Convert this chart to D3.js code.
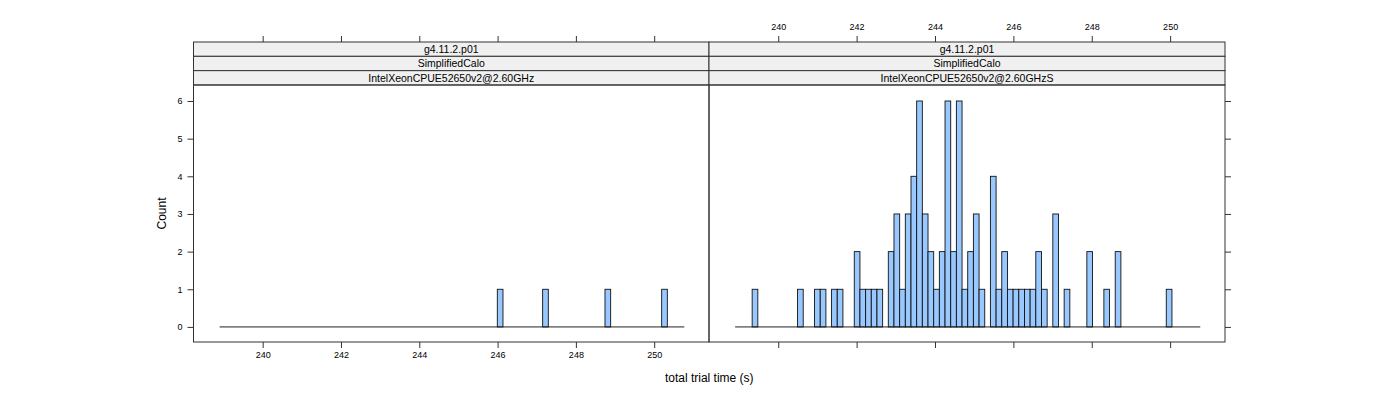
<!DOCTYPE html>
<html><head><meta charset="utf-8">
<script src="https://cdn.jsdelivr.net/npm/d3@7"></script>
<style>body{margin:0;background:#fff}svg{display:block}text{font-family:"Liberation Sans",Arial,sans-serif}</style>
</head><body><div id="chart"></div>
<script>
// ---- data ----
const panels = ["left", "right"];
const stripVersion = ["g4.11.2.p01", "g4.11.2.p01"];
const stripTest = ["SimplifiedCalo", "SimplifiedCalo"];
const stripCpu = ["IntelXeonCPUE52650v2@2.60GHz", "IntelXeonCPUE52650v2@2.60GHzS"];
const binRange = [238.9, 250.77];   // histogram break range
const binCount = 82;
const leftCounts = [
  0,0,0,0,0,0,0,0,0,0, 0,0,0,0,0,0,0,0,0,0,
  0,0,0,0,0,0,0,0,0,0, 0,0,0,0,0,0,0,0,0,0,
  0,0,0,0,0,0,0,0,0,1, 0,0,0,0,0,0,0,1,0,0,
  0,0,0,0,0,0,0,0,1,0, 0,0,0,0,0,0,0,0,1,0,
  0,0];
const rightCounts = [
  0,0,0,1,0,0,0,0,0,0, 0,1,0,0,1,1,0,1,1,0,
  0,2,1,1,1,1,0,2,3,1, 3,4,6,3,2,1,2,6,2,6,
  1,2,3,1,0,4,1,2,1,1, 1,1,1,2,1,0,3,0,1,0,
  0,0,2,0,0,1,0,2,0,0, 0,0,0,0,0,0,1,0,0,0,
  0,0];
const xTicks = [240, 242, 244, 246, 248, 250];
const yTicks = [0, 1, 2, 3, 4, 5, 6];
const xLabel = "total trial time (s)";
const yLabel = "Count";

// ---- layout ----
const W = 1400, H = 400;
const L = 193.5, M = 709, R = 1225;
const stripTop = 42, stripH = 14.33, panelTop = stripTop + 3 * stripH, panelBottom = 342;
const ink = "#333";
const tickFont = 9;

const svg = d3.select("#chart").append("svg").attr("width", W).attr("height", H);

const y = d3.scaleLinear().domain([-0.4, 6.425]).range([panelBottom, panelTop]);
const breaks = d3.range(binCount + 1).map(i => binRange[0] + i * (binRange[1] - binRange[0]) / binCount);
const countsByPanel = [leftCounts, rightCounts];

panels.forEach((p, pi) => {
  const x0 = pi === 0 ? L : M, x1 = pi === 0 ? M : R;
  const x = d3.scaleLinear().domain([238.233, 251.40]).range([x0, x1]);
  const g = svg.append("g");

  // bars
  const bins = countsByPanel[pi].map((c, i) => ({x0: breaks[i], x1: breaks[i + 1], c}));
  g.selectAll("rect.bar").data(bins).join("rect")
    .attr("class", "bar")
    .attr("x", d => x(d.x0)).attr("width", d => x(d.x1) - x(d.x0))
    .attr("y", d => y(d.c)).attr("height", d => y(0) - y(d.c))
    .attr("fill", "#99c8ff").attr("stroke", "#111").attr("stroke-width", 0.9);
  // zero baseline segments
  g.append("line").attr("x1", x(breaks[0])).attr("x2", x(breaks[binCount]))
    .attr("y1", y(0)).attr("y2", y(0)).attr("stroke", "#222").attr("stroke-width", 1);

  // strips
  [stripVersion[pi], stripTest[pi], stripCpu[pi]].forEach((t, si) => {
    const sy = stripTop + si * stripH;
    g.append("rect").attr("x", x0).attr("y", sy).attr("width", x1 - x0).attr("height", stripH)
      .attr("fill", "#f0f0f0").attr("stroke", ink).attr("stroke-width", 1);
    g.append("text").attr("x", (x0 + x1) / 2).attr("y", sy + stripH / 2 + 3.7)
      .attr("text-anchor", "middle").attr("font-size", 10.5).attr("fill", "#000").text(t);
  });

  // panel border
  g.append("rect").attr("x", x0).attr("y", panelTop).attr("width", x1 - x0).attr("height", panelBottom - panelTop)
    .attr("fill", "none").attr("stroke", ink).attr("stroke-width", 1);

  // x axes
  if (pi === 0) {
    const ax = svg.append("g").attr("transform", `translate(0,${panelBottom})`)
      .call(d3.axisBottom(x).tickValues(xTicks).tickSize(6).tickPadding(4).tickFormat(d3.format("d")));
    ax.select(".domain").remove();
    ax.selectAll("text").attr("font-size", tickFont).attr("font-family", "Liberation Sans, Arial, sans-serif");
    const at = svg.append("g").attr("transform", `translate(0,${stripTop})`)
      .call(d3.axisTop(x).tickValues(xTicks).tickSize(6).tickFormat(""));
    at.select(".domain").remove();
  } else {
    const at = svg.append("g").attr("transform", `translate(0,${stripTop})`)
      .call(d3.axisTop(x).tickValues(xTicks).tickSize(6).tickPadding(6).tickFormat(d3.format("d")));
    at.select(".domain").remove();
    at.selectAll("text").attr("font-size", tickFont).attr("font-family", "Liberation Sans, Arial, sans-serif");
    const ab = svg.append("g").attr("transform", `translate(0,${panelBottom})`)
      .call(d3.axisBottom(x).tickValues(xTicks).tickSize(6).tickFormat(""));
    ab.select(".domain").remove();
  }
});

// y axes
const ay = svg.append("g").attr("transform", `translate(${L},0)`)
  .call(d3.axisLeft(y).tickValues(yTicks).tickSize(6).tickPadding(5).tickFormat(d3.format("d")));
ay.select(".domain").remove();
ay.selectAll("text").attr("font-size", tickFont).attr("font-family", "Liberation Sans, Arial, sans-serif");
const ayr = svg.append("g").attr("transform", `translate(${R},0)`)
  .call(d3.axisRight(y).tickValues(yTicks).tickSize(6).tickFormat(""));
ayr.select(".domain").remove();
svg.selectAll(".tick line").attr("stroke", ink);
svg.selectAll(".tick text").attr("fill", "#000");

// axis titles
svg.append("text").attr("x", (L + R) / 2).attr("y", 382).attr("text-anchor", "middle")
  .attr("font-size", 12).text(xLabel);
svg.append("text").attr("transform", `translate(166,${(panelTop + panelBottom) / 2}) rotate(-90)`)
  .attr("text-anchor", "middle").attr("font-size", 12).text(yLabel);
</script></body></html>
